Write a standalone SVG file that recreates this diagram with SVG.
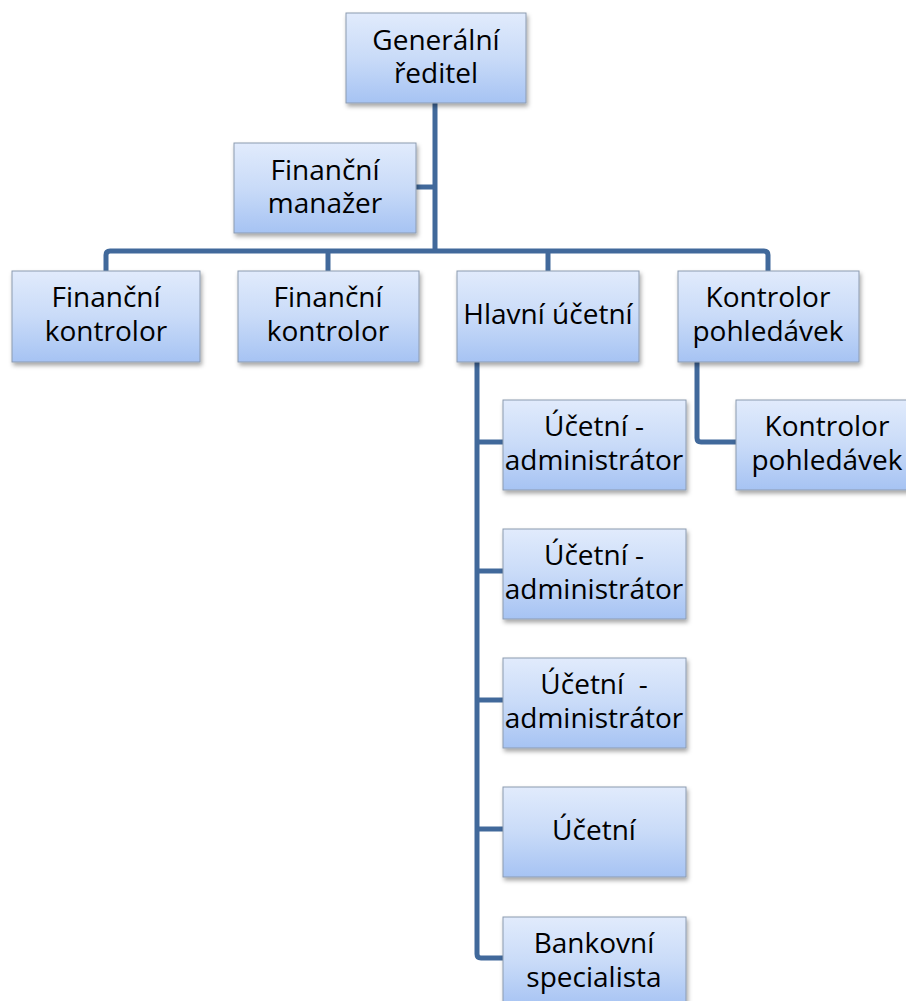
<svg xmlns="http://www.w3.org/2000/svg" width="906" height="1001" viewBox="0 0 906 1001">
<defs>
<linearGradient id="g" x1="0" y1="0" x2="0" y2="1">
<stop offset="0" stop-color="#e1ebfc"/>
<stop offset="0.5" stop-color="#c9dbf8"/>
<stop offset="1" stop-color="#a6c3f3"/>
</linearGradient>
<filter id="sh" x="-10%" y="-10%" width="125%" height="130%">
<feDropShadow dx="1.5" dy="3" stdDeviation="2" flood-color="#000" flood-opacity="0.35"/>
</filter>
</defs>
<style>
.box{fill:url(#g);stroke:#8c9bb0;stroke-width:1;filter:url(#sh)}
.t{font-family:"Open Sans","Liberation Sans",sans-serif;font-size:28px;fill:#000;text-anchor:middle}
.c{fill:none;stroke:#41699b;stroke-width:5;stroke-linejoin:round}
</style>
<rect width="906" height="1001" fill="#fff"/>
<g id="connectors">
<path class="c" d="M435 103 V251"/>
<path class="c" d="M416 187 H435"/>
<path class="c" d="M106 271 V255 Q106 251 110 251 H764 Q768 251 768 255 V271"/>
<path class="c" d="M328 251 V271"/>
<path class="c" d="M548 251 V271"/>
<path class="c" d="M477 362 V954 Q477 958 481 958 H503"/>
<path class="c" d="M477 442 H503"/>
<path class="c" d="M477 571 H503"/>
<path class="c" d="M477 700 H503"/>
<path class="c" d="M477 829 H503"/>
<path class="c" d="M697 362 V438 Q697 442 701 442 H736"/>
</g>
<g id="n-generalni"><rect class="box" x="346" y="13" width="180" height="90"/><text class="t" x="436" y="50">Generální</text><text class="t" x="436" y="83">ředitel</text></g>
<g id="n-fin-manazer"><rect class="box" x="234" y="143" width="182" height="90"/><text class="t" x="325" y="180">Finanční</text><text class="t" x="325" y="213">manažer</text></g>
<g id="n-fk1"><rect class="box" x="12" y="271" width="188" height="91"/><text class="t" x="106" y="307">Finanční</text><text class="t" x="106" y="341">kontrolor</text></g>
<g id="n-fk2"><rect class="box" x="238" y="271" width="181" height="91"/><text class="t" x="328" y="307">Finanční</text><text class="t" x="328" y="341">kontrolor</text></g>
<g id="n-hlavni"><rect class="box" x="457" y="271" width="182" height="91"/><text class="t" x="548" y="324">Hlavní účetní</text></g>
<g id="n-kp1"><rect class="box" x="678" y="271" width="181" height="91"/><text class="t" x="768" y="307">Kontrolor</text><text class="t" x="768" y="341">pohledávek</text></g>
<g id="n-kp2"><rect class="box" x="736" y="400" width="182" height="90"/><text class="t" x="827" y="436">Kontrolor</text><text class="t" x="827" y="470">pohledávek</text></g>
<g id="n-ua1"><rect class="box" x="503" y="400" width="183" height="90"/><text class="t" x="594" y="436">Účetní -</text><text class="t" x="594" y="470">administrátor</text></g>
<g id="n-ua2"><rect class="box" x="503" y="529" width="183" height="90"/><text class="t" x="594" y="565">Účetní -</text><text class="t" x="594" y="599">administrátor</text></g>
<g id="n-ua3"><rect class="box" x="503" y="658" width="183" height="90"/><text class="t" x="594" y="694" xml:space="preserve">Účetní  -</text><text class="t" x="594" y="728">administrátor</text></g>
<g id="n-ucetni"><rect class="box" x="503" y="787" width="183" height="90"/><text class="t" x="594" y="840">Účetní</text></g>
<g id="n-bank"><rect class="box" x="503" y="917" width="183" height="90"/><text class="t" x="594" y="953">Bankovní</text><text class="t" x="594" y="987">specialista</text></g>
</svg>
